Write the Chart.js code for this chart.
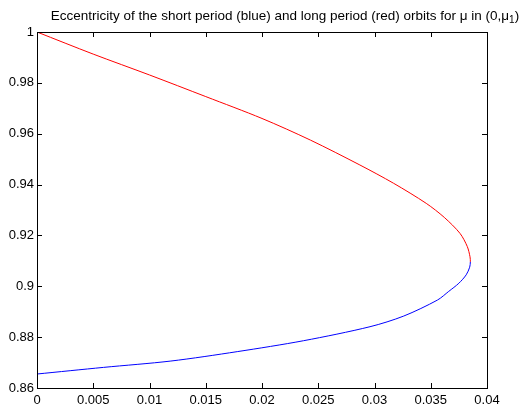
<!DOCTYPE html>
<html>
<head>
<meta charset="utf-8">
<script src="https://cdn.jsdelivr.net/npm/chart.js@4"></script>
<style>
	body { margin:0; background:#fff; }
	#box { width:524px; height:407px; }
</style>
</head>
<body>
<div id="box"><canvas id="myChart"></canvas></div>
<script>
//데이터
const redX  = [0, 0.005, 0.010, 0.015, 0.020, 0.0243, 0.0287, 0.0317, 0.0346, 0.0362, 0.0376, 0.03825, 0.03849, 0.03852];
const redY  = [1.0, 0.9913, 0.9831, 0.9746, 0.9660, 0.9575, 0.9477, 0.9405, 0.9326, 0.9271, 0.9208, 0.9156, 0.9116, 0.9096];
const blueX = [0, 0.0059, 0.0119, 0.0178, 0.0237, 0.0296, 0.0326, 0.0356, 0.0366, 0.0375, 0.03815, 0.03846, 0.03852];
const blueY = [0.8655, 0.8681, 0.8706, 0.8743, 0.8786, 0.8841, 0.8883, 0.8946, 0.8980, 0.9012, 0.9045, 0.9075, 0.9096];
const xTicks = [0, 0.005, 0.01, 0.015, 0.02, 0.025, 0.03, 0.035, 0.04];
const yTicks = [0.86, 0.88, 0.9, 0.92, 0.94, 0.96, 0.98, 1];
const titleText = "Eccentricity of the short period (blue) and long period (red) orbits for \u03bc in (0,\u03bc";

const FONT = "'Liberation Sans', Arial, sans-serif";
const toPts = (xs, ys) => xs.map((x, i) => ({ x: x, y: ys[i] }));

// 빨강(0 -> 꼭짓점) + 파랑(꼭짓점 -> 0) 한 줄로 이어서 꼭짓점을 부드럽게
const redPts = toPts(redX, redY);
const bluePts = toPts(blueX, blueY).reverse().slice(1);
const curve = redPts.concat(bluePts);
const redEnd = redPts.length - 1;

//테두리 + 안쪽 눈금 + 제목
const matlabBox = {
	id: 'matlabBox',
	afterDraw(chart) {
		const c = chart.ctx, a = chart.chartArea;
		const sx = chart.scales.x, sy = chart.scales.y;
		c.save();
		c.strokeStyle = '#000';
		c.lineWidth = 1;
		c.strokeRect(Math.round(a.left) + 0.5, Math.round(a.top) + 0.5, Math.round(a.right - a.left), Math.round(a.bottom - a.top));
		c.beginPath();
		xTicks.forEach(v => {
			const px = Math.round(sx.getPixelForValue(v)) + 0.5;
			c.moveTo(px, a.bottom); c.lineTo(px, a.bottom - 5);
			c.moveTo(px, a.top); c.lineTo(px, a.top + 5);
		});
		yTicks.forEach(v => {
			const py = Math.round(sy.getPixelForValue(v)) + 0.5;
			c.moveTo(a.left, py); c.lineTo(a.left + 5, py);
			c.moveTo(a.right, py); c.lineTo(a.right - 5, py);
		});
		c.stroke();

		// 제목 (아래첨자 1)
		c.fillStyle = '#000';
		c.textBaseline = 'alphabetic';
		c.textAlign = 'left';
		c.font = '13.5px ' + FONT;
		const w1 = c.measureText(titleText).width;
		c.font = '10px ' + FONT;
		const w2 = c.measureText('1').width;
		c.font = '13.5px ' + FONT;
		const w3 = c.measureText(')').width;
		let x0 = 285 - (w1 + w2 + w3) / 2;
		c.fillText(titleText, x0, 20);
		c.font = '10px ' + FONT;
		c.fillText('1', x0 + w1, 23);
		c.font = '13.5px ' + FONT;
		c.fillText(')', x0 + w1 + w2, 20);
		c.restore();
	}
};

new Chart(document.getElementById('myChart'), {
	type: 'scatter',
	data: {
		datasets: [{
			label: 'long period (red) / short period (blue)',
			data: curve,
			showLine: true,
			borderColor: '#ff0000',
			borderWidth: 1,
			pointRadius: 0,
			tension: 0.3,
			segment: {
				borderColor: s => s.p0DataIndex >= redEnd ? '#0000ff' : '#ff0000'
			}
		}]
	},
	options: {
		responsive: true,
		maintainAspectRatio: false,
		animation: false,
		layout: { padding: { left: 0, right: 37, top: 32, bottom: 0 } },
		plugins: { legend: { display: false }, tooltip: { enabled: false } },
		scales: {
			x: {
				type: 'linear', min: 0, max: 0.04,
				afterBuildTicks: s => { s.ticks = xTicks.map(v => ({ value: v })); },
				afterFit: s => { s.height = 19; },
				grid: { display: false, drawTicks: false },
				border: { display: false },
				ticks: { color: '#000', padding: 5, maxRotation: 0, autoSkip: false,
					font: { family: FONT, size: 13 },
					callback: v => String(+v.toFixed(3)) }
			},
			y: {
				type: 'linear', min: 0.86, max: 1,
				afterBuildTicks: s => { s.ticks = yTicks.map(v => ({ value: v })); },
				afterFit: s => { s.width = 37; },
				grid: { display: false, drawTicks: false },
				border: { display: false },
				ticks: { color: '#000', padding: 3, autoSkip: false,
					font: { family: FONT, size: 13 },
					callback: v => String(+v.toFixed(2)) }
			}
		}
	},
	plugins: [matlabBox]
});
</script>
</body>
</html>
